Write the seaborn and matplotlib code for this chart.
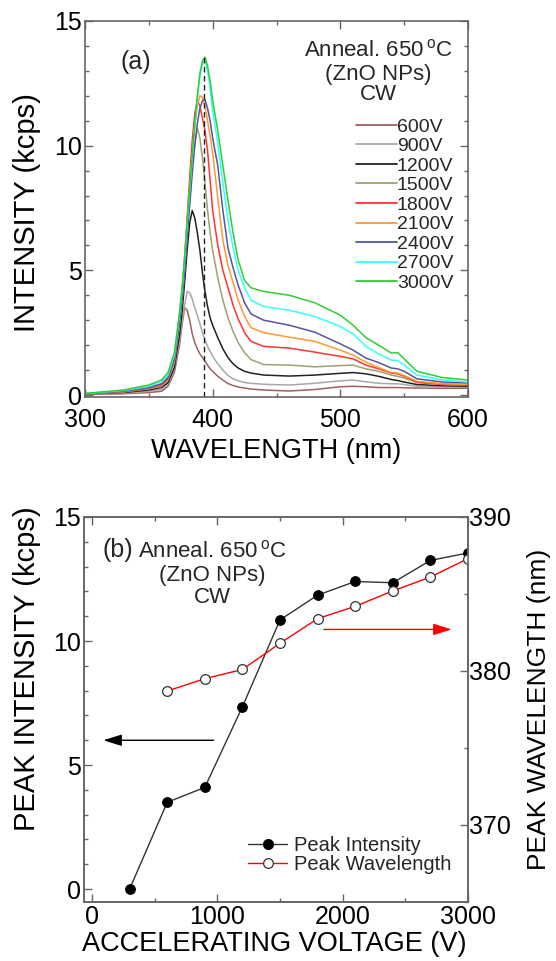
import matplotlib
matplotlib.use("Agg")
import matplotlib.pyplot as plt
import numpy as np
import pandas as pd
import seaborn as sns
from matplotlib.lines import Line2D
from matplotlib.ticker import MultipleLocator

sns.set_theme(style="ticks")
plt.rcParams["font.family"] = ["Liberation Sans", "DejaVu Sans"]
plt.rcParams["mathtext.fontset"] = "custom"
plt.rcParams["mathtext.rm"] = "Liberation Sans"
plt.rcParams["mathtext.it"] = "Liberation Sans:italic"

# ---------------- data: panel (a) spectra ----------------
wavelength = [300, 330, 350, 360, 365, 370, 374, 376, 378, 380, 382, 384, 386, 388, 390,
              392, 394, 396, 398, 400, 404, 408, 412, 416, 420, 425, 430, 440, 460, 480,
              500, 510, 520, 530, 540, 545, 550, 560, 580, 600]
int_600 = [0.02, 0.05, 0.10, 0.15, 0.35, 0.9, 2.0, 2.8, 3.5, 3.4, 3.0, 2.45, 2.1, 1.85, 1.65,
           1.5, 1.35, 1.2, 1.05, 0.95, 0.75, 0.6, 0.46, 0.38, 0.32, 0.28, 0.24, 0.2, 0.16, 0.22,
           0.33, 0.35, 0.33, 0.3, 0.3, 0.3, 0.29, 0.28, 0.27, 0.27]
int_900 = [0.03, 0.08, 0.15, 0.22, 0.45, 1.0, 2.2, 2.9, 3.6, 4.15, 4.1, 3.85, 3.5, 3.2, 2.85,
           2.5, 2.2, 1.95, 1.75, 1.55, 1.25, 1.0, 0.78, 0.65, 0.57, 0.5, 0.47, 0.43, 0.4, 0.47,
           0.57, 0.6, 0.53, 0.47, 0.45, 0.45, 0.42, 0.35, 0.32, 0.31]
int_1200 = [0.04, 0.1, 0.2, 0.3, 0.5, 1.1, 2.4, 3.3, 4.5, 5.8, 6.9, 7.4, 7.1, 6.5, 5.8,
            4.9, 4.15, 3.55, 3.1, 2.8, 2.3, 1.85, 1.5, 1.25, 1.08, 0.95, 0.88, 0.8, 0.76, 0.8,
            0.87, 0.9, 0.85, 0.75, 0.62, 0.58, 0.52, 0.42, 0.37, 0.35]
int_1500 = [0.04, 0.12, 0.25, 0.35, 0.6, 1.3, 2.8, 3.8, 5.0, 6.4, 7.8, 9.1, 10.1, 10.7, 10.3,
            9.5, 8.5, 7.4, 6.5, 5.8, 4.7, 3.8, 3.1, 2.55, 2.1, 1.7, 1.42, 1.22, 1.2, 1.13,
            1.18, 1.2, 1.05, 0.95, 0.8, 0.75, 0.68, 0.5, 0.42, 0.4]
int_1800 = [0.05, 0.13, 0.28, 0.4, 0.65, 1.4, 3.0, 4.1, 5.5, 7.1, 8.7, 10.2, 11.3, 11.8, 11.6,
            11.1, 10.6, 9.8, 8.6, 7.4, 6.0, 5.0, 4.3, 3.6, 3.05, 2.5, 2.15, 1.95, 1.88, 1.72,
            1.55, 1.45, 1.2, 1.05, 0.88, 0.85, 0.75, 0.52, 0.43, 0.4]
int_2100 = [0.05, 0.14, 0.3, 0.45, 0.7, 1.45, 3.0, 4.0, 5.3, 6.8, 8.2, 9.6, 10.8, 11.6, 12.0,
            11.95, 11.6, 11.0, 10.4, 9.7, 7.9, 6.2, 5.2, 4.5, 3.8, 3.15, 2.7, 2.5, 2.32, 2.15,
            1.8, 1.6, 1.32, 1.1, 0.9, 0.88, 0.78, 0.55, 0.45, 0.42]
int_2400 = [0.05, 0.15, 0.3, 0.45, 0.7, 1.45, 2.9, 3.8, 5.0, 6.3, 7.6, 8.9, 10.0, 10.9, 11.5,
            11.8, 11.85, 11.5, 11.0, 10.3, 9.2, 7.4, 5.9, 5.1, 4.4, 3.7, 3.25, 3.0, 2.8, 2.52,
            2.05, 1.8, 1.48, 1.3, 1.08, 1.05, 0.95, 0.65, 0.52, 0.48]
int_2700 = [0.06, 0.18, 0.35, 0.55, 0.8, 1.6, 3.2, 4.2, 5.4, 6.8, 8.2, 9.5, 10.8, 11.9, 12.8,
            13.3, 13.4, 13.0, 12.3, 11.4, 10.1, 8.5, 7.0, 5.9, 5.0, 4.3, 3.8, 3.55, 3.4, 3.15,
            2.75, 2.45, 1.95, 1.65, 1.4, 1.38, 1.2, 0.8, 0.6, 0.52]
int_3000 = [0.06, 0.2, 0.4, 0.6, 0.9, 1.7, 3.3, 4.3, 5.5, 6.9, 8.3, 9.6, 10.9, 12.0, 12.9,
            13.4, 13.55, 13.2, 12.6, 11.8, 10.6, 9.2, 7.8, 6.5, 5.4, 4.6, 4.3, 4.15, 4.0, 3.7,
            3.2, 2.8, 2.3, 2.0, 1.68, 1.7, 1.45, 0.95, 0.7, 0.6]
voltage_labels = ["600V", "900V", "1200V", "1500V", "1800V", "2100V", "2400V", "2700V", "3000V"]
line_colors = ["#a06060", "#a8a8a8", "#222222", "#a0a070", "#ff3333",
               "#ff9933", "#5555a0", "#33ffff", "#33cc33"]
dashed_peak_wl = 393.5

# ---------------- data: panel (b) ----------------
acc_voltage_int = [300, 600, 900, 1200, 1500, 1800, 2100, 2400, 2700, 3000]
peak_intensity = [0.0, 3.5, 4.1, 7.35, 10.85, 11.85, 12.4, 12.35, 13.25, 13.55]
acc_voltage_wl = [600, 900, 1200, 1500, 1800, 2100, 2400, 2700, 3000]
peak_wavelength = [378.7, 379.5, 380.1, 381.8, 383.4, 384.2, 385.2, 386.1, 387.3]

# ---------------- figure ----------------
W, H = 556, 961
fig = plt.figure(figsize=(W / 100, H / 100), dpi=100)
spine_c = "#666666"

def style_axes(ax):
    for s in ax.spines.values():
        s.set_color(spine_c)
        s.set_linewidth(1.2)

# ---- panel (a)
ax1 = fig.add_axes([85 / W, 1 - 397 / H, 383 / W, 376 / H])
curves = [int_600, int_900, int_1200, int_1500, int_1800, int_2100, int_2400, int_2700, int_3000]
df = pd.DataFrame({
    "wl": np.tile(wavelength, len(curves)),
    "I": np.concatenate(curves),
    "V": np.repeat(voltage_labels, len(wavelength)),
})
sns.lineplot(data=df, x="wl", y="I", hue="V", palette=line_colors, hue_order=voltage_labels,
             estimator=None, sort=False, lw=1.1, legend=False, ax=ax1)
ax1.vlines(dashed_peak_wl, -0.1, 13.6, colors="#222222", linestyles=(0, (4, 2.5)), lw=1.0)
ax1.set_xlim(300, 600)
ax1.set_ylim(-0.08, 15)
ax1.xaxis.set_major_locator(MultipleLocator(100))
ax1.xaxis.set_minor_locator(MultipleLocator(50))
ax1.yaxis.set_major_locator(MultipleLocator(5))
ax1.yaxis.set_minor_locator(MultipleLocator(1))
ax1.tick_params(which="both", direction="in", top=True, right=True, color=spine_c, width=1,
                labelsize=18, labelcolor="black")
ax1.tick_params(which="major", length=6)
ax1.tick_params(which="minor", length=3)
ax1.tick_params(axis="x", pad=8)
ax1.tick_params(axis="y", pad=2)
style_axes(ax1)
ax1.set_xlabel("WAVELENGTH (nm)", fontsize=19.5, color="black")
ax1.set_ylabel("INTENSITY (kcps)", fontsize=21, color="black")
ax1.xaxis.set_label_coords(0.5, -0.108)
ax1.yaxis.set_label_coords(-0.115, 0.49)

handles = [Line2D([], [], color=c, lw=1.3) for c in line_colors]
ax1.legend(handles, voltage_labels, loc="upper left",
           bbox_to_anchor=(356 / W, 1 - 118 / H), bbox_transform=fig.transFigure,
           frameon=False, fontsize=14, handlelength=2.1, handletextpad=0.0,
           labelspacing=0.1, borderpad=0, borderaxespad=0)

fig.text(378 / W, 1 - 56 / H, r"Anneal. 650$\,^{\mathrm{o}}$C", fontsize=16, ha="center", va="baseline")
fig.text(378 / W, 1 - 80 / H, "(ZnO NPs)", fontsize=16, ha="center", va="baseline")
fig.text(378 / W, 1 - 100 / H, "CW", fontsize=16, ha="center", va="baseline")
fig.text(136 / W, 1 - 69 / H, "(a)", fontsize=18, ha="center", va="baseline")

# ---- panel (b)
ax2 = fig.add_axes([84 / W, 1 - 902 / H, 384 / W, 385 / H])
ax2r = ax2.twinx()
sns.lineplot(x=acc_voltage_int, y=peak_intensity, ax=ax2, color="#333333", lw=1.0,
             marker="o", markersize=7, markerfacecolor="black", markeredgecolor="black")
sns.lineplot(x=acc_voltage_wl, y=peak_wavelength, ax=ax2r, color="red", lw=1.0,
             marker="o", markersize=7, markerfacecolor="white", markeredgecolor="#333333",
             markeredgewidth=0.9)
ax2.set_xlim(-64, 3000)
ax2.set_ylim(-0.52, 15)
ax2r.set_ylim(365, 390)
ax2.xaxis.set_major_locator(MultipleLocator(1000))
ax2.xaxis.set_minor_locator(MultipleLocator(500))
ax2.yaxis.set_major_locator(MultipleLocator(5))
ax2.yaxis.set_minor_locator(MultipleLocator(1))
ax2r.yaxis.set_major_locator(MultipleLocator(10))
ax2r.yaxis.set_minor_locator(MultipleLocator(5))
ax2.tick_params(which="both", direction="in", top=True, right=False, color=spine_c, width=1,
                labelsize=18, labelcolor="black")
ax2.tick_params(which="major", length=6)
ax2.tick_params(which="minor", length=3)
ax2.tick_params(axis="x", pad=2)
ax2.tick_params(axis="y", pad=2)
ax2r.tick_params(which="both", direction="in", color=spine_c, width=1, labelsize=18,
                 labelcolor="black", pad=1)
ax2r.tick_params(which="major", length=6)
ax2r.tick_params(which="minor", length=3)
style_axes(ax2)
style_axes(ax2r)
ax2.set_xlabel("ACCELERATING VOLTAGE (V)", fontsize=19.5, color="black")
ax2.set_ylabel("PEAK INTENSITY (kcps)", fontsize=21, color="black")
ax2r.set_ylabel("PEAK WAVELENGTH (nm)", fontsize=19, color="black")
ax2.xaxis.set_label_coords(0.495, -0.075)
ax2.yaxis.set_label_coords(-0.112, 0.605)
ax2r.yaxis.set_label_coords(1.154, 0.5)

ax2.annotate("", xy=(90, 6.0), xytext=(970, 6.0),
             arrowprops=dict(arrowstyle="-|>,head_length=0.8,head_width=0.25", color="black",
                             lw=1.0, mutation_scale=14, shrinkA=0, shrinkB=0))
ax2r.annotate("", xy=(2870, 382.7), xytext=(1850, 382.7),
              arrowprops=dict(arrowstyle="-|>,head_length=0.8,head_width=0.25", color="red",
                              lw=1.0, mutation_scale=14, shrinkA=0, shrinkB=0))

h1 = Line2D([], [], color="#333333", lw=1.0, marker="o", markersize=7,
            markerfacecolor="black", markeredgecolor="black")
h2 = Line2D([], [], color="red", lw=1.0, marker="o", markersize=7,
            markerfacecolor="white", markeredgecolor="#333333", markeredgewidth=0.9)
ax2r.legend([h1, h2], ["Peak Intensity", "Peak Wavelength"], loc="upper left",
            bbox_to_anchor=(248 / W, 1 - 836 / H), bbox_transform=fig.transFigure,
            frameon=False, fontsize=14.5, handlelength=1.95, handletextpad=0.35,
            labelspacing=0.0, borderpad=0, borderaxespad=0)

fig.text(102 / W, 1 - 557 / H, "(b)", fontsize=18, ha="left", va="baseline")
fig.text(212 / W, 1 - 557 / H, r"Anneal. 650$\,^{\mathrm{o}}$C", fontsize=16, ha="center", va="baseline")
fig.text(212 / W, 1 - 581 / H, "(ZnO NPs)", fontsize=16, ha="center", va="baseline")
fig.text(212 / W, 1 - 603 / H, "CW", fontsize=16, ha="center", va="baseline")

fig.savefig("out.png", dpi=100)
